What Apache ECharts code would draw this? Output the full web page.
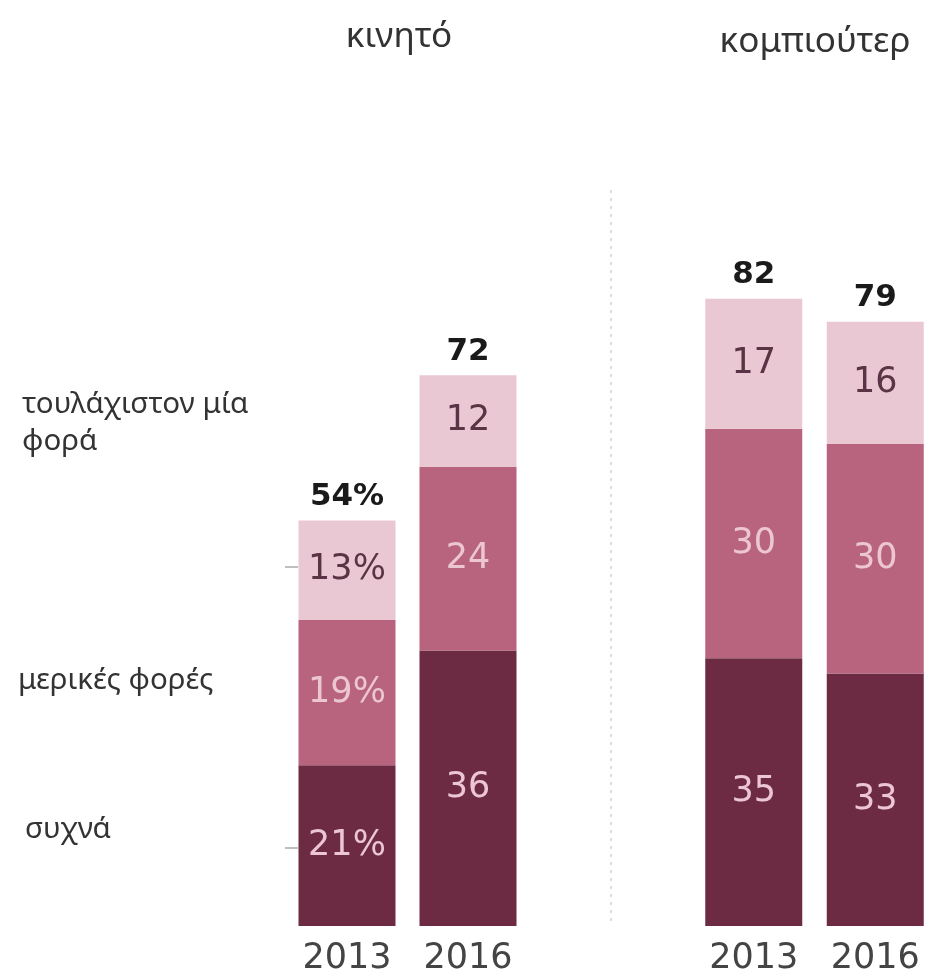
<!DOCTYPE html>
<html>
<head>
<meta charset="utf-8">
<script src="https://cdn.jsdelivr.net/npm/echarts@6/dist/echarts.min.js"></script>
<style>html,body{margin:0;padding:0;background:#fff;}#c{width:929px;height:977px;}</style>
</head>
<body>
<div id="c"></div>
<script>
const years = ['2013', '2016'];
const groupTitles = ['κινητό', 'κομπιούτερ'];
const seriesNames = ['συχνά', 'μερικές φορές', 'τουλάχιστον μία φορά'];
const mobileOften = [21, 36];
const mobileSometimes = [19, 24];
const mobileOnce = [13, 12];
const mobileTotal = [54, 72];
const computerOften = [35, 33];
const computerSometimes = [30, 30];
const computerOnce = [17, 16];
const computerTotal = [82, 79];

const colors = ['#6c2b42', '#b8647e', '#eac8d3'];
const innerText = ['#ecc6d2', '#ecc6d2', '#5a3344'];
const numFont = 'DejaVu Sans';

function fmt(grid, idx, v) {
  return (grid === 0 && idx === 0) ? v + '%' : String(v);
}

function makeSeries(grid, arrs, totals) {
  const out = arrs.map((arr, k) => ({
    name: seriesNames[k],
    type: 'bar',
    stack: 'g' + grid,
    xAxisIndex: grid,
    yAxisIndex: grid,
    barWidth: 97,
    data: arr,
    itemStyle: { color: colors[k] },
    label: {
      show: true,
      position: 'inside',
      color: innerText[k],
      fontFamily: numFont,
      fontSize: 35,
      formatter: p => fmt(grid, p.dataIndex, p.value)
    },
    silent: true
  }));
  out.push({
    type: 'bar',
    stack: 'g' + grid,
    xAxisIndex: grid,
    yAxisIndex: grid,
    barWidth: 97,
    data: totals.map(() => 0),
    itemStyle: { color: 'transparent' },
    label: {
      show: true,
      position: 'top',
      distance: 8,
      color: '#1a1a1a',
      fontFamily: numFont,
      fontWeight: 'bold',
      fontSize: 31,
      formatter: p => fmt(grid, p.dataIndex, totals[p.dataIndex])
    },
    silent: true
  });
  return out;
}

const chart = echarts.init(document.getElementById('c'));
const xAx = i => ({
  type: 'category', gridIndex: i, data: years,
  axisLine: { show: false }, axisTick: { show: false },
  axisLabel: { color: '#444', fontFamily: numFont, fontSize: 35, margin: 15 }
});
const yAx = i => ({
  type: 'value', gridIndex: i, min: 0, max: 100,
  show: false, splitLine: { show: false }
});

const labelFont = '29.5px "Noto Sans"';
const titleFont = '35px "Noto Sans"';

chart.setOption({
  animation: false,
  grid: [
    { left: 286.5, width: 242, top: 161, bottom: 51, outerBoundsMode: 'none', containLabel: false },
    { left: 693, width: 243, top: 161, bottom: 51, outerBoundsMode: 'none', containLabel: false }
  ],
  xAxis: [xAx(0), xAx(1)],
  yAxis: [yAx(0), yAx(1)],
  series: makeSeries(0, [mobileOften, mobileSometimes, mobileOnce], mobileTotal)
    .concat(makeSeries(1, [computerOften, computerSometimes, computerOnce], computerTotal)),
  graphic: [
    { type: 'text', x: 399, y: 37, style: { text: groupTitles[0], fill: '#333', font: titleFont, align: 'center', verticalAlign: 'middle' } },
    { type: 'text', x: 815, y: 42, style: { text: groupTitles[1], fill: '#333', font: titleFont, align: 'center', verticalAlign: 'middle' } },
    { type: 'text', x: 22, y: 423, style: { text: 'τουλάχιστον μία\nφορά', lineHeight: 37, fill: '#333', font: labelFont, verticalAlign: 'middle' } },
    { type: 'text', x: 18, y: 681, style: { text: seriesNames[1], fill: '#333', font: labelFont, verticalAlign: 'middle' } },
    { type: 'text', x: 25, y: 830, style: { text: seriesNames[0], fill: '#333', font: labelFont, verticalAlign: 'middle' } },
    { type: 'line', shape: { x1: 285, y1: 567, x2: 298, y2: 567 }, style: { stroke: '#aaa', lineWidth: 1.5 } },
    { type: 'line', shape: { x1: 285, y1: 848, x2: 298, y2: 848 }, style: { stroke: '#aaa', lineWidth: 1.5 } },
    { type: 'line', shape: { x1: 611, y1: 190, x2: 611, y2: 926 }, style: { stroke: '#ddd', lineWidth: 2, lineDash: [3, 5] } }
  ]
});
</script>
</body>
</html>
